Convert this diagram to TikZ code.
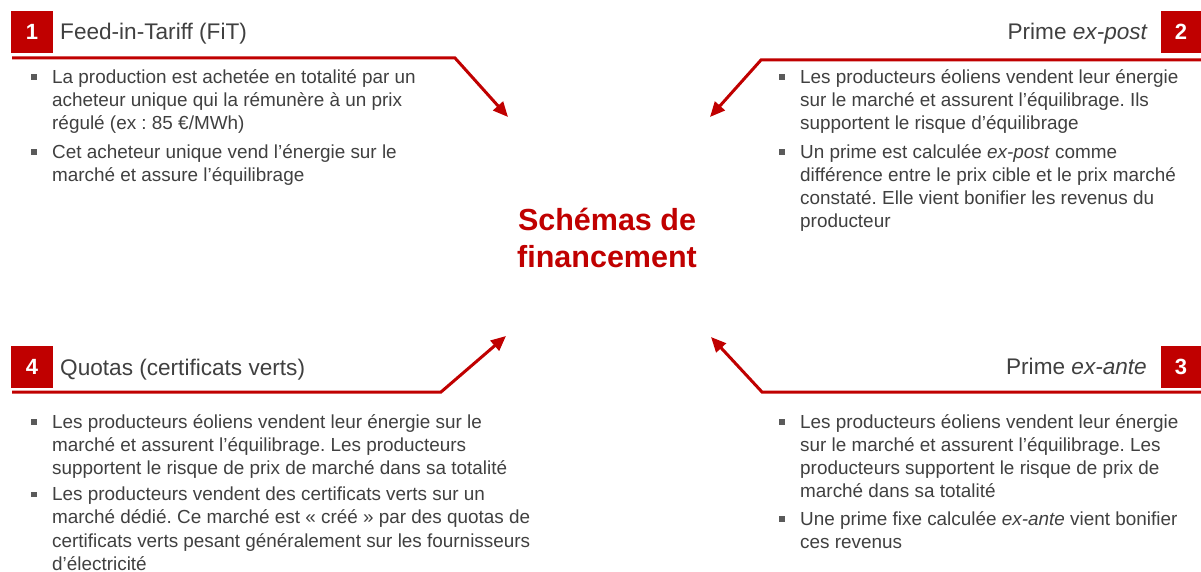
\documentclass[tikz,border=0pt]{standalone}
\usepackage{fontspec}
\setmainfont{Liberation Sans}
\usetikzlibrary{arrows.meta}
\frenchspacing
\definecolor{brandred}{HTML}{C00000}
\definecolor{txtgray}{HTML}{404040}
\definecolor{bulgray}{HTML}{5A5A5A}
\newcommand\bulmark{\strut\llap{\textcolor{bulgray}{\rule[3.5pt]{5.5pt}{5.5pt}}\hspace{15.5pt}}}
\tikzset{
  numbox/.style={fill=brandred, minimum width=42pt, minimum height=42pt, inner sep=0pt,
    text=white, font=\fontsize{22}{26}\selectfont\bfseries},
  titletext/.style={inner sep=0pt, text=txtgray, font=\fontsize{22.6}{27}\selectfont},
  bodytext/.style={inner sep=0pt, anchor=north west, align=left, text=txtgray,
    font=\fontsize{18.9}{23.2}\selectfont},
  rule/.style={draw=brandred, line width=3pt, line join=miter,
    -{Triangle[length=15pt,width=13pt]}},
  centertext/.style={align=center, text=brandred, inner sep=0pt,
    font=\fontsize{30.5}{37}\selectfont\bfseries}
}
\begin{document}
\begin{tikzpicture}[x=1pt,y=-1pt]
\useasboundingbox (0,0) rectangle (1201,572);
\fill[white] (0,0) rectangle (1201,572);

% centre
\node[centertext] (c) at (607,238) {Schémas de\\financement};

% quadrant 1
\node[numbox] (n1) at (32,32) {1};
\node[titletext, anchor=base west] (t1) at (60,40) {Feed-in-Tariff (FiT)};
\coordinate (s1) at (12,58);
\coordinate (k1) at (455,58);
\coordinate (a1) at (508,117);
\draw[rule] (s1) -- (k1) -- (a1);
\node[bodytext] (b11) at (52,66.8) {\bulmark La production est achetée en totalité par un\\acheteur unique qui la rémunère à un prix\\régulé (ex : 85 €/MWh)};
\node[bodytext] (b12) at (52,141.8) {\bulmark Cet acheteur unique vend l’énergie sur le\\marché et assure l’équilibrage};

% quadrant 2
\node[numbox, minimum width=40pt] (n2) at (1181,32) {2};
\node[titletext, anchor=base east] (t2) at (1148,40) {Prime \textit{ex-post}};
\coordinate (s2) at (1201,60);
\coordinate (k2) at (761,60);
\coordinate (a2) at (710,117);
\draw[rule] (s2) -- (k2) -- (a2);
\node[bodytext] (b21) at (800,66.8) {\bulmark Les producteurs éoliens vendent leur énergie\\sur le marché et assurent l’équilibrage. Ils\\supportent le risque d’équilibrage};
\node[bodytext] (b22) at (800,141.8) {\bulmark Un prime est calculée \textit{ex-post} comme\\différence entre le prix cible et le prix marché\\constaté. Elle vient bonifier les revenus du\\producteur};

% quadrant 4
\node[numbox] (n4) at (32,367) {4};
\node[titletext, anchor=base west] (t4) at (60,375) {Quotas (certificats verts)};
\coordinate (s4) at (12,392);
\coordinate (k4) at (441,392);
\coordinate (a4) at (506,336);
\draw[rule] (s4) -- (k4) -- (a4);
\node[bodytext] (b41) at (52,411.8) {\bulmark Les producteurs éoliens vendent leur énergie sur le\\marché et assurent l’équilibrage. Les producteurs\\supportent le risque de prix de marché dans sa totalité};
\node[bodytext] (b42) at (52,484.3) {\bulmark Les producteurs vendent des certificats verts sur un\\marché dédié. Ce marché est « créé » par des quotas de\\certificats verts pesant généralement sur les fournisseurs\\d’électricité};

% quadrant 3
\node[numbox, minimum width=40pt] (n3) at (1181,367) {3};
\node[titletext, anchor=base east] (t3) at (1147,374) {Prime \textit{ex-ante}};
\coordinate (s3) at (1201,392);
\coordinate (k3) at (762,392);
\coordinate (a3) at (711,337);
\draw[rule] (s3) -- (k3) -- (a3);
\node[bodytext] (b31) at (800,411.8) {\bulmark Les producteurs éoliens vendent leur énergie\\sur le marché et assurent l’équilibrage. Les\\producteurs supportent le risque de prix de\\marché dans sa totalité};
\node[bodytext] (b32) at (800,508.8) {\bulmark Une prime fixe calculée \textit{ex-ante} vient bonifier\\ces revenus};
\end{tikzpicture}
\end{document}
